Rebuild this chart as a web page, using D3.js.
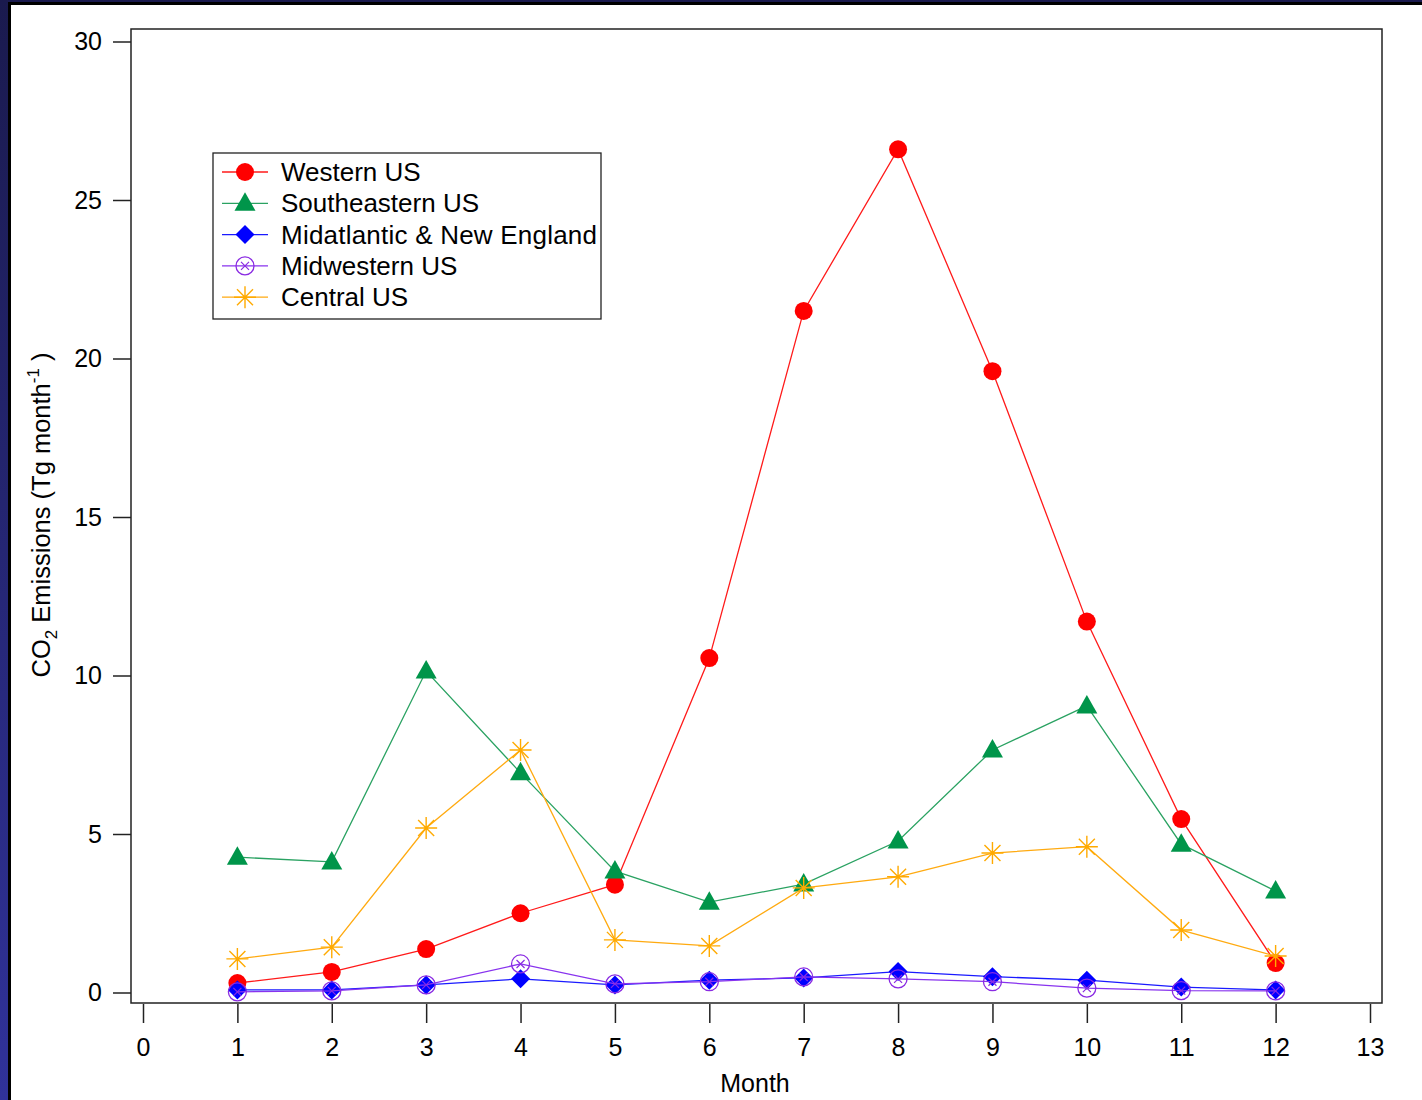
<!DOCTYPE html>
<html>
<head>
<meta charset="utf-8">
<script src="https://cdn.jsdelivr.net/npm/d3@7"></script>
<style>
  html, body { margin: 0; padding: 0; background: #fff; }
  svg { display: block; }
  text { font-family: "Liberation Sans", Arial, sans-serif; fill: #000; }
</style>
</head>
<body>
<script>
const months = [1, 2, 3, 4, 5, 6, 7, 8, 9, 10, 11, 12]
const xTicks = d3.range(0, 14)
const yTicks = [0, 5, 10, 15, 20, 25, 30]

const westernUS = [0.3, 0.65, 1.37, 2.5, 3.4, 10.55, 21.5, 26.6, 19.6, 11.7, 5.47, 0.93]
const southeasternUS = [4.27, 4.12, 10.14, 6.93, 3.83, 2.85, 3.42, 4.78, 7.65, 9.04, 4.68, 3.2]
const midatlanticNE = [0.08, 0.08, 0.24, 0.43, 0.24, 0.39, 0.46, 0.66, 0.5, 0.39, 0.17, 0.08]
const midwesternUS = [0.02, 0.05, 0.24, 0.9, 0.27, 0.34, 0.49, 0.43, 0.34, 0.14, 0.06, 0.05]
const centralUS = [1.06, 1.43, 5.19, 7.65, 1.66, 1.47, 3.3, 3.65, 4.4, 4.6, 1.97, 1.15]

const seriesNames = ['Western US', 'Southeastern US', 'Midatlantic & New England', 'Midwestern US', 'Central US']

const W = 1422, H = 1100
const FONT = '"Liberation Sans", Arial, sans-serif'
const svg = d3.select('body').append('svg').attr('width', W).attr('height', H)

// dark frame around the slide
const grad = svg.append('defs').append('linearGradient')
  .attr('id', 'navy').attr('x1', 0).attr('y1', 0).attr('x2', 0).attr('y2', 1)
grad.append('stop').attr('offset', '0%').attr('stop-color', '#1a1a4e')
grad.append('stop').attr('offset', '100%').attr('stop-color', '#30329a')
svg.append('rect').attr('width', W).attr('height', H).attr('fill', 'url(#navy)')
svg.append('rect').attr('x', 8).attr('y', 2).attr('width', W).attr('height', H).attr('fill', '#000')
svg.append('rect').attr('x', 11).attr('y', 5).attr('width', W).attr('height', H).attr('fill', '#fff')

const x = d3.scaleLinear().domain([0, 13]).range([143, 1370])
const y = d3.scaleLinear().domain([0, 30]).range([992.5, 41.5])

// plot frame
svg.append('rect')
  .attr('x', 131).attr('y', 29).attr('width', 1382 - 131).attr('height', 1003 - 29)
  .attr('fill', 'none').attr('stroke', '#222').attr('stroke-width', 1.5)

const yAxis = svg.append('g').attr('transform', 'translate(131,0)')
  .call(d3.axisLeft(y).tickValues(yTicks).tickSize(18).tickPadding(11).tickFormat(d3.format('d')))
yAxis.select('.domain').remove()
yAxis.selectAll('line').attr('stroke', '#222').attr('stroke-width', 1.5)
yAxis.selectAll('text').style('font-size', '25px').attr('fill', '#000').style('font-family', FONT)

const xAxis = svg.append('g').attr('transform', 'translate(0,1004)')
  .call(d3.axisBottom(x).tickValues(xTicks).tickSize(19).tickPadding(15).tickFormat(d3.format('d')))
xAxis.select('.domain').remove()
xAxis.selectAll('line').attr('stroke', '#222').attr('stroke-width', 1.5)
xAxis.selectAll('text').style('font-size', '25px').attr('fill', '#000').style('font-family', FONT)

svg.append('text').attr('x', 755).attr('y', 1092).attr('text-anchor', 'middle')
  .style('font-size', '25px').text('Month')

const yTitle = svg.append('text')
  .attr('transform', 'translate(50,515) rotate(-90)')
  .attr('text-anchor', 'middle').style('font-size', '25.5px')
yTitle.append('tspan').text('CO')
yTitle.append('tspan').attr('dy', 7).style('font-size', '17px').text('2')
yTitle.append('tspan').attr('dy', -7).text(' Emissions (Tg month')
yTitle.append('tspan').attr('dy', -11).style('font-size', '17px').text('-1')
yTitle.append('tspan').attr('dy', 11).text(' )')

// marker painters
function circleMark (g, c) {
  g.append('circle').attr('r', 9).attr('fill', c)
}
function triangleMark (g, c) {
  g.append('path').attr('d', 'M0,-11L10.5,7.5L-10.5,7.5Z').attr('fill', c)
}
function diamondMark (g, c) {
  g.append('path').attr('d', 'M0,-9.5L9.5,0L0,9.5L-9.5,0Z').attr('fill', c)
}
function crossCircleMark (g, c) {
  g.append('circle').attr('r', 9).attr('fill', 'none').attr('stroke', c).attr('stroke-width', 1.3)
  g.append('path').attr('d', 'M-4,-4L4,4M-4,4L4,-4').attr('stroke', c).attr('stroke-width', 1.2)
}
function starMark (g, c) {
  g.append('path')
    .attr('d', 'M0,-11V11M-11,0H11M-8,-8L8,8M-8,8L8,-8')
    .attr('stroke', c).attr('stroke-width', 1.4)
}

const series = [
  { name: seriesNames[0], values: westernUS, line: '#ff1a1a', color: '#ff0000', mark: circleMark },
  { name: seriesNames[1], values: southeasternUS, line: '#2aa262', color: '#00954a', mark: triangleMark },
  { name: seriesNames[2], values: midatlanticNE, line: '#1a1aff', color: '#0000ff', mark: diamondMark },
  { name: seriesNames[3], values: midwesternUS, line: '#8833ee', color: '#8a2be2', mark: crossCircleMark },
  { name: seriesNames[4], values: centralUS, line: '#ffaa10', color: '#ffaa00', mark: starMark }
]

const line = d3.line().x((d, i) => x(months[i])).y(d => y(d))

series.forEach(s => {
  svg.append('path').datum(s.values).attr('d', line)
    .attr('fill', 'none').attr('stroke', s.line).attr('stroke-width', 1.3)
  s.values.forEach((v, i) => {
    const g = svg.append('g').attr('transform', `translate(${x(months[i])},${y(v)})`)
    s.mark(g, s.color)
  })
})

// legend
const lg = svg.append('g')
lg.append('rect').attr('x', 213).attr('y', 153).attr('width', 601 - 213).attr('height', 319 - 153)
  .attr('fill', '#fff').attr('stroke', '#222').attr('stroke-width', 1.3)
series.forEach((s, i) => {
  const cy = 172 + i * 31.3
  lg.append('line').attr('x1', 222).attr('x2', 268).attr('y1', cy).attr('y2', cy)
    .attr('stroke', s.line).attr('stroke-width', 1.3)
  const g = lg.append('g').attr('transform', `translate(245,${cy})`)
  s.mark(g, s.color)
  lg.append('text').attr('x', 281).attr('y', cy + 9).style('font-size', '26px')
    .attr('textLength', s.name === seriesNames[2] ? 316 : null)
    .text(s.name)
})
</script>
</body>
</html>
